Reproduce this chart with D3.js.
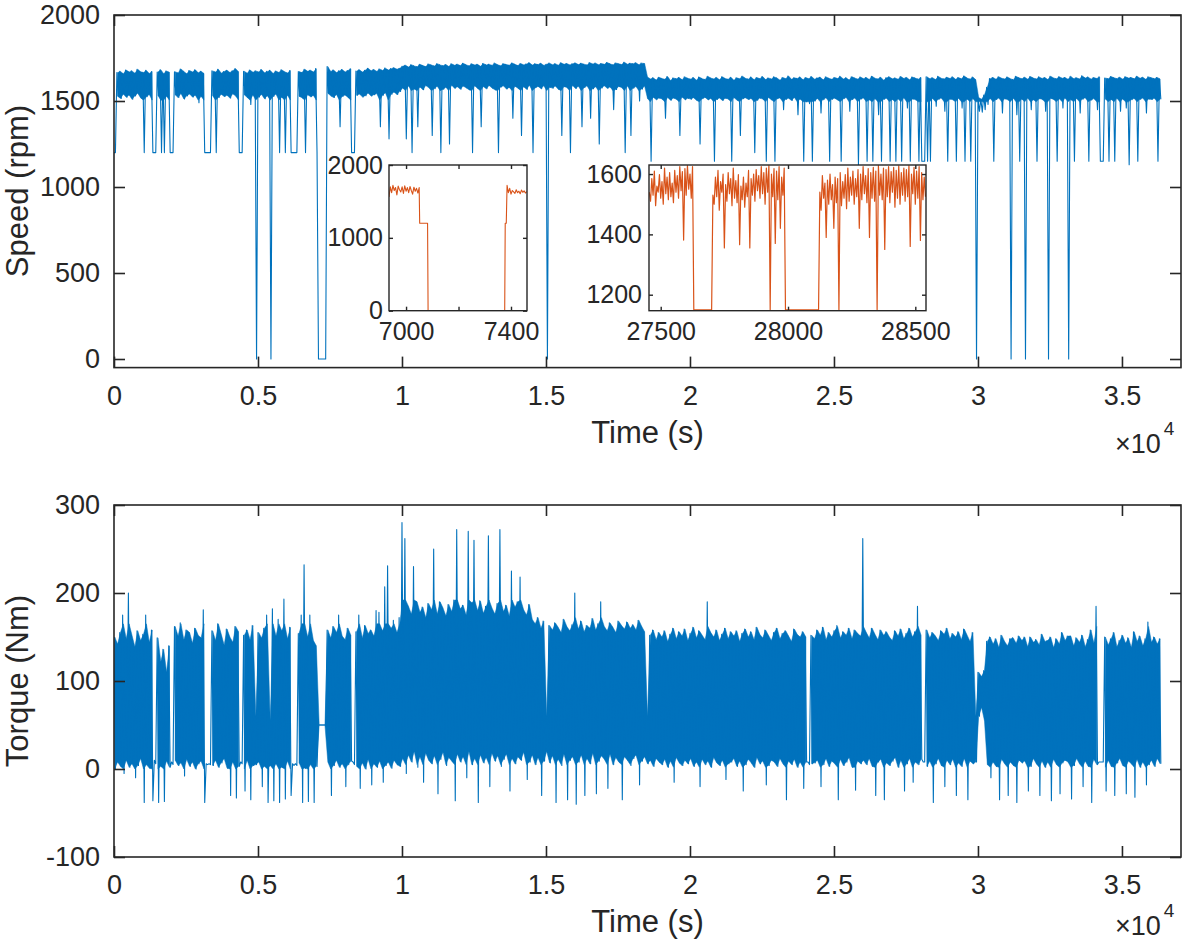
<!DOCTYPE html>
<html><head><meta charset="utf-8">
<script src="https://cdn.jsdelivr.net/npm/d3@7/dist/d3.min.js"></script>
<style>
body{margin:0;background:#fff}
svg{display:block}
</style>
</head><body>
<svg id="c" width="1184" height="940"></svg>
<script>
// ---------------- DATA ----------------
// Main series sampled every 100 s (t = i*100); for each sample a high reading
// (at t) and a low reading (at t+50) read from the picture.
const sampleStep = 100;
const speedHi = [
1200,1665,1672,1658,1680,1669,1675,1661,1684,1670,
1666,1678,1660,1671,1200,1668,1682,1659,1674,1667,
1200,1670,1663,1686,1672,1658,1677,1669,1681,1664,
1673,1660,1200,1200,1675,1668,1684,1662,1671,1679,
1666,1676,1688,1670,1200,1673,1661,1680,1667,1675,
1669,1683,1664,1672,1678,1660,1674,1666,1681,1670,
1663,1677,1200,1200,1671,1665,1684,1673,1679,1668,
1688,0,0,0,1700,1672,1680,1666,1675,1683,
1669,1677,1687,1200,1674,1681,1668,1679,1690,1676,
1683,1672,1686,1678,1691,1680,1688,1693,1685,1690,
1702,1708,1697,1711,1704,1699,1713,1706,1700,1715,
1709,1703,1717,1710,1705,1712,1701,1716,1708,1714,
1706,1719,1711,1704,1716,1709,1713,1702,1718,1710,
1714,1707,1720,1711,1705,1717,1712,1708,1721,1713,
1706,1718,1710,1715,1722,1709,1716,1712,1719,1707,
1714,1720,1711,1717,1708,1722,1713,1718,1710,1716,
1721,1712,1719,1714,1709,1723,1715,1720,1711,1718,
1713,1724,1716,1710,1721,1717,1712,1725,1714,1719,
1716,1722,1711,1720,1718,
1640,1628,1635,1622,1638,
1631,1626,1642,1619,1634,1629,1637,1624,1640,1632,
1627,1636,1621,1639,1630,1625,1643,1633,1628,1637,
1623,1641,1631,1626,1638,1620,1635,1629,1644,1632,
1627,1639,1624,1636,1630,1642,1625,1634,1628,1640,
1633,1621,1637,1630,1645,1626,1635,1631,1639,1624,
1636,1629,1642,1627,1634,1638,1623,1640,1632,1626,
1637,1631,1643,1628,1635,1622,1641,1633,1627,1639,
1630,1636,1625,1644,1632,1628,1638,1621,1635,1640,
1629,1634,1626,1642,1631,1637,1623,1639,1633,1627,
1636,1150,1641,1630,1635,1625,1643,1632,1628,1638,
1631,1640,1626,1636,1629,1645,1633,1627,1639,1624,
1520,1510,1535,1580,1630,1637,1626,1641,1632,1628,
1639,1630,1624,1643,1635,1629,1638,1627,1642,1633,
1628,1640,1631,1636,1625,1644,1634,1629,1641,1632,
1637,1626,1643,1630,1635,1628,1646,1633,1639,1627,
1636,1631,1640,1150,1634,1629,1642,1635,1630,1638,
1627,1641,1633,1636,1629,1644,1632,1638,1626,1640,
1635,1630,1637,1628];
const speedLo = [
1200,1528,1515,1540,1522,1535,1510,1530,1545,1518,
1200,1525,1538,1200,1200,1532,1200,1200,1527,1200,
1200,1536,1520,1544,1512,1530,1541,1523,1534,1490,
1527,1200,1200,1200,1531,1200,1520,1539,1526,1533,
1517,1542,1529,1200,1200,1536,1521,1480,1535,0,
1524,1538,1513,1531,0,1527,1540,1200,1522,1200,
1534,1200,1200,1200,1528,1519,1200,1537,1525,1532,
1200,0,0,0,1545,1530,1520,1538,1350,1527,
1535,1521,1200,1200,1533,1540,1524,1531,1546,1529,
1537,1543,1350,1534,1548,1280,1540,1552,1538,1556,
1575,1280,1588,1200,1570,1350,1582,1565,1590,1578,
1300,1572,1586,1200,1568,1580,1250,1592,1574,1583,
1569,1587,1577,1566,1200,1589,1573,1350,1584,1571,
1590,1576,1565,1200,1582,1588,1570,1579,1400,1586,
1574,1300,1583,1568,1591,1200,1577,1585,1572,1589,
0,1580,1575,1587,1569,1300,1584,1578,1200,1590,
1573,1586,1350,1579,1588,1400,1571,1583,1250,1576,
1589,1574,1582,1450,1567,1585,1578,1200,1588,1300,
1575,1584,1500,1570,1587,
1515,1150,1522,1508,1518,
1512,1400,1520,1505,1517,1510,1300,1523,1508,1516,
1511,1519,1504,1250,1514,1521,1507,1515,1150,1509,
1518,1503,1516,1512,1150,1520,1506,1300,1513,1519,
1509,1515,1200,1504,1517,1511,1150,1520,1507,1150,
1514,1518,1450,1510,1516,1503,1521,1420,1512,1150,
1496,1485,1150,1500,1515,1430,1508,1519,1150,1511,
1516,1506,1150,1513,1520,1440,1509,1517,1130,1512,
1518,1150,1507,1150,1514,1420,1150,1510,1516,1150,
1509,1150,1513,1150,1519,1460,1150,1512,1508,1150,
1150,1150,1150,1150,1515,1470,1510,1518,1440,1150,
1512,1507,1150,1516,1460,1150,1511,1150,1514,0,
1440,1435,1450,1480,1515,1150,1509,1517,1430,1513,
1508,0,1516,1420,1150,1511,0,1518,1450,1507,
1150,1514,1510,1440,0,1516,1509,1150,1513,1460,
1517,0,1508,1150,1515,1430,1511,1519,1150,1506,
1514,1450,1150,1150,1512,1150,1509,1150,1516,1440,
1511,1460,1130,1508,1515,1150,1510,1517,1430,1512,
1509,1516,1150,1510];

const torqueHi = [
150,142,155,175,148,200,152,139,157,146,
153,175,144,158,10,149,122,136,110,140,
8,162,151,166,147,158,155,143,160,152,
149,181,6,6,157,146,165,153,141,159,
150,144,162,156,8,152,158,147,163,60,
155,149,160,175,55,182,151,170,157,193,
148,161,6,6,154,175,232,150,175,146,
140,50,50,50,158,149,162,155,175,151,
147,160,152,8,156,175,149,163,154,158,
151,180,178,157,207,231,160,169,155,172,
280,262,185,176,230,190,178,184,172,188,
181,250,176,190,183,174,187,179,192,272,
182,186,175,270,189,260,180,191,177,185,
265,183,176,188,272,179,186,174,225,184,
190,218,181,175,187,170,165,172,160,168,
60,163,158,166,161,155,170,162,157,164,
200,159,168,156,163,160,171,158,165,190,
162,157,166,161,155,168,163,159,167,160,
164,158,169,162,156,
60,152,158,147,155,
150,157,145,153,160,148,156,151,159,146,
154,161,149,157,152,147,190,155,150,158,
146,153,160,148,156,151,157,145,154,159,
150,156,147,161,153,149,158,152,146,155,
160,148,154,157,151,145,159,153,150,156,
150,8,152,148,158,152,161,147,155,150,
157,163,149,156,152,160,148,158,154,151,
262,155,149,160,153,147,158,152,156,150,
146,157,151,159,148,154,160,150,156,185,
152,8,158,149,155,151,146,157,153,160,
148,154,150,156,147,159,152,145,155,60,
110,105,112,145,150,142,148,138,152,145,
140,148,149,143,151,146,150,139,150,144,
147,141,153,145,146,150,138,148,142,155,
146,151,151,140,149,144,152,139,147,158,
143,185,8,8,150,141,148,155,139,146,
152,143,149,138,156,145,151,140,148,167,
144,150,142,148];
const torqueLo = [
0,8,3,-5,10,2,6,-10,4,12,
-38,5,1,-36,6,-38,3,-37,9,2,
5,10,4,7,-8,11,3,8,0,6,
9,-38,5,5,4,10,2,7,12,1,
-30,8,-33,3,6,-25,10,-35,4,5,
8,-20,3,-38,4,-36,6,-38,2,-34,
9,-30,4,4,7,-38,1,-37,5,-38,
3,50,50,50,8,-30,4,10,2,6,
-20,5,9,5,3,-22,7,0,11,-18,
6,2,9,-15,4,8,1,10,5,3,
12,-5,16,8,20,2,14,-15,18,10,
6,15,-28,11,19,4,13,9,-36,17,
8,14,-10,20,5,12,-38,16,7,13,
-20,18,9,15,3,11,17,-25,12,6,
14,10,19,-12,8,16,5,13,-30,9,
20,7,15,-38,11,4,17,-35,10,14,
-40,8,16,-30,12,6,18,-28,9,15,
11,-22,17,5,13,8,-35,14,10,4,
12,16,-18,9,14,
6,10,3,12,8,
5,11,2,9,-15,13,7,4,10,6,
12,3,8,-20,11,5,9,2,13,7,
4,10,-12,6,8,12,3,9,-25,5,
11,7,2,13,6,9,-18,4,10,8,
3,12,6,-35,9,5,11,2,8,-22,
8,5,6,7,10,-20,5,12,3,9,
6,-35,11,4,8,13,2,-24,9,6,
10,5,12,3,-30,8,11,-35,7,4,
9,13,2,10,-25,6,12,-15,8,5,
11,8,3,9,-38,6,12,4,-20,10,
5,11,-30,7,3,12,-35,9,6,8,
60,70,55,5,-10,8,3,-35,11,6,
-30,8,4,-38,10,7,9,-25,3,12,
6,-30,9,2,8,-36,11,5,-28,7,
10,8,-34,4,12,6,-20,9,3,-38,
11,5,8,8,-25,10,3,-30,7,12,
4,-28,9,6,-32,11,2,8,-18,5,
10,3,12,6];

// Dense part of the noise band in each operating regime (start time, lower limit, upper limit);
// readings beyond these limits are isolated excursions, drawn by the line only.
const speedRegionStart = [0, 9950, 18450];
const speedBandFloor   = [1505, 1560, 1495];
const speedBandCap     = [1800, 1800, 1800];
const torqueRegionStart = [0, 9950, 14600, 18450];
const torqueBandFloor   = [0, 5, 5, 2];
const torqueBandCap     = [165, 192, 172, 162];

// Inset 1 (zoom 6935-7460 s)
const inset1Time = [6935,6940,6945,6950,6955,6960,6965,6970,6975,6980,6985,6990,6995,7000,7005,7010,7015,7020,7025,7030,7035,7040,7045,7050,
  7052,7082,7084,7376,7378,7382,
  7385,7390,7395,7400,7405,7410,7415,7420,7425,7430,7435,7440,7445,7450,7455,7460];
const inset1Speed = [1560,1700,1620,1720,1650,1690,1590,1710,1660,1630,1700,1610,1715,1640,1690,1620,1705,1650,1600,1695,1640,1680,1615,1690,
  1200,1200,0,0,1200,1200,
  1720,1620,1680,1600,1650,1630,1610,1660,1620,1640,1605,1655,1625,1645,1615,1635];

// Inset 2 (zoom 27455-28540 s), sampled every 10 s: high at t, low at t+5
const inset2Start = 27455, inset2Step = 10;
const inset2Hi = [
1540,1585,1610,1560,1598,1575,1620,1590,1605,1570,
1612,1595,1625,1608,1618,1628,1600,1625,1150,1150,
1150,1150,1150,1150,1150,1530,1590,1612,1575,1600,
1565,1605,1585,1620,1578,1598,1560,1590,1570,1612,
1585,1600,1615,1595,1625,1605,1620,1628,1600,1618,
1610,1625,1590,1620,1150,1150,1150,1150,1150,1150,
1150,1150,1150,1150,1150,1150,1150,1540,1595,1570,
1580,1600,1565,1590,1585,1605,1575,1598,1620,1590,
1610,1585,1615,1600,1625,1595,1618,1605,1622,1610,
1628,1600,1620,1615,1625,1608,1622,1612,1627,1605,
1620,1615,1628,1600,1622,1610,1625,1605,1590];
const inset2Lo = [
1510,1530,1495,1540,1520,1500,1535,1515,1525,1505,
1540,1520,1545,1381,1530,1550,1520,1150,1150,1150,
1150,1150,1150,1150,1150,1500,1525,1480,1540,1355,
1510,1535,1495,1520,1505,1366,1515,1490,1525,1355,
1530,1510,1545,1520,1535,1500,1540,1150,1525,1370,
1515,1420,1530,1150,1150,1150,1150,1150,1150,1150,
1150,1150,1150,1150,1150,1150,1150,1480,1520,1390,
1500,1515,1420,1505,1150,1495,1520,1485,1510,1530,
1500,1525,1420,1515,1535,1505,1390,1520,1510,1150,
1530,1515,1350,1525,1505,1540,1490,1520,1500,1530,
1510,1525,1360,1535,1500,1520,1380,1515,1525];

// Ticks / labels
const mainXTicks = [0,5000,10000,15000,20000,25000,30000,35000];
const mainXLabels = ["0","0.5","1","1.5","2","2.5","3","3.5"];
const speedYTicks = [0,500,1000,1500,2000];
const torqueYTicks = [-100,0,100,200,300];
const inset1XTicks = [7000,7200,7400];
const inset1XLabels = ["7000","","7400"];
const inset1YTicks = [0,1000,2000];
const inset2XTicks = [27500,28000,28500];
const inset2YTicks = [1200,1400,1600];

// ---------------- DRAWING ----------------
const BLUE = "#0072BD", ORANGE = "#D95319", AX = "#262626";
const FONT = "Arial, 'Liberation Sans', Helvetica, sans-serif";
const svg = d3.select("#c");

function zig(hi, lo, t0, step) {
  const pts = [];
  const n = Math.min(hi.length, lo.length);
  for (let i = 0; i < n; i++) {
    pts.push([t0 + i*step, hi[i]]);
    pts.push([t0 + i*step + step/2, lo[i]]);
  }
  return pts;
}
function bandRows(hi, lo, step, starts, floors, caps) {
  return hi.map((h, i) => {
    const t = i*step;
    const r = d3.bisectRight(starts, t) - 1;
    return {t: t + step/4, hi: h, lo: lo[i], floor: floors[r], cap: caps[r]};
  });
}

let clipId = 0;
function panel(x, y, pts, color, sw, o, band) {
  const [l, r] = x.range(), [b, t] = y.range();
  const g = svg.append("g");
  g.append("rect").attr("x", l).attr("y", t).attr("width", r-l).attr("height", b-t).attr("fill", "#fff");
  const id = "clip" + (clipId++);
  g.append("clipPath").attr("id", id).append("rect").attr("x", l).attr("y", t).attr("width", r-l).attr("height", b-t);
  if (band) {
    g.append("path").datum(band).attr("clip-path", `url(#${id})`)
      .attr("fill", color).attr("stroke", color).attr("stroke-width", 0.5)
      .attr("d", d3.area()
        .defined(d => d.hi > d.floor + o.minSpan)
        .x(d => x(d.t))
        .y0(d => y(Math.max(d.lo, d.floor)))
        .y1(d => y(Math.min(d.hi, d.cap))));
  }
  g.append("path").datum(pts).attr("clip-path", `url(#${id})`)
    .attr("fill", "none").attr("stroke", color).attr("stroke-width", sw).attr("stroke-linejoin", "round")
    .attr("d", d3.line().x(d => x(d[0])).y(d => y(d[1])));
  const axes = [
    g.append("g").attr("transform", `translate(0,${b})`).call(d3.axisBottom(x).tickValues(o.xt).tickFormat((d,i)=>o.xl[i]).tickSizeInner(-o.tick).tickSizeOuter(0).tickPadding(o.xpad)),
    g.append("g").attr("transform", `translate(0,${t})`).call(d3.axisTop(x).tickValues(o.xt).tickFormat("").tickSizeInner(-o.tick).tickSizeOuter(0)),
    g.append("g").attr("transform", `translate(${l},0)`).call(d3.axisLeft(y).tickValues(o.yt).tickFormat(d=>String(d)).tickSizeInner(-o.tick).tickSizeOuter(0).tickPadding(o.ypad)),
    g.append("g").attr("transform", `translate(${r},0)`).call(d3.axisRight(y).tickValues(o.yt).tickFormat("").tickSizeInner(-o.tick).tickSizeOuter(0))
  ];
  axes.forEach(a => {
    a.select(".domain").remove();
    a.attr("font-size", o.fs).attr("font-family", FONT);
    a.selectAll("line").attr("stroke", AX).attr("stroke-width", o.sw);
    a.selectAll("text").attr("fill", AX);
  });
  g.append("rect").attr("x", l).attr("y", t).attr("width", r-l).attr("height", b-t)
    .attr("fill", "none").attr("stroke", AX).attr("stroke-width", o.sw);
  return g;
}

function label(txt, x, y, rot, fs) {
  svg.append("text").attr("transform", `translate(${x},${y})` + (rot ? ` rotate(${rot})` : ""))
    .attr("text-anchor", "middle").attr("font-family", FONT).attr("font-size", fs).attr("fill", AX).text(txt);
}
function exp10(x, y) {
  const t = svg.append("text").attr("x", x).attr("y", y).attr("font-family", FONT).attr("font-size", 27).attr("fill", AX);
  t.append("tspan").text("\u00D710");
  t.append("tspan").attr("dx", 3).attr("dy", -18).attr("font-size", 19).text("4");
}

// Top panel: speed
const xMain = d3.scaleLinear().domain([0, 37050]).range([114, 1181]);
const ySpeed = d3.scaleLinear().domain([-50, 2000]).range([367.6, 15]);
panel(xMain, ySpeed, zig(speedHi, speedLo, 0, sampleStep), BLUE, 1.1,
  {xt: mainXTicks, xl: mainXLabels, yt: speedYTicks, tick: 11, xpad: 18, ypad: 14, fs: 27, sw: 1.6, minSpan: 0},
  bandRows(speedHi, speedLo, sampleStep, speedRegionStart, speedBandFloor, speedBandCap));
label("Time (s)", 647.5, 443, 0, 31);
label("Speed (rpm)", 28, 191, -90, 31);
exp10(1115, 453);

// Inset 1
const xIn1 = d3.scaleLinear().domain([6935, 7461]).range([389, 527]);
const yIn1 = d3.scaleLinear().domain([0, 2000]).range([310.7, 165]);
panel(xIn1, yIn1, inset1Time.map((t,i)=>[t, inset1Speed[i]]), ORANGE, 1.1,
  {xt: inset1XTicks, xl: inset1XLabels, yt: inset1YTicks, tick: 4, xpad: 12, ypad: 6, fs: 25, sw: 1.4});

// Inset 2
const xIn2 = d3.scaleLinear().domain([27454, 28542]).range([649, 926]);
const yIn2 = d3.scaleLinear().domain([1147, 1630]).range([310.7, 165]);
panel(xIn2, yIn2, zig(inset2Hi, inset2Lo, inset2Start, inset2Step), ORANGE, 1.2,
  {xt: inset2XTicks, xl: inset2XTicks.map(String), yt: inset2YTicks, tick: 4, xpad: 12, ypad: 7, fs: 25, sw: 1.4});

// Bottom panel: torque
const yTorque = d3.scaleLinear().domain([-100, 300]).range([857, 505]);
panel(xMain, yTorque, zig(torqueHi, torqueLo, 0, sampleStep), BLUE, 1.1,
  {xt: mainXTicks, xl: mainXLabels, yt: torqueYTicks, tick: 11, xpad: 18, ypad: 14, fs: 27, sw: 1.6, minSpan: 20},
  bandRows(torqueHi, torqueLo, sampleStep, torqueRegionStart, torqueBandFloor, torqueBandCap));
label("Time (s)", 647.5, 932, 0, 31);
label("Torque (Nm)", 28, 681, -90, 31);
exp10(1115, 935);
</script>
</body></html>
